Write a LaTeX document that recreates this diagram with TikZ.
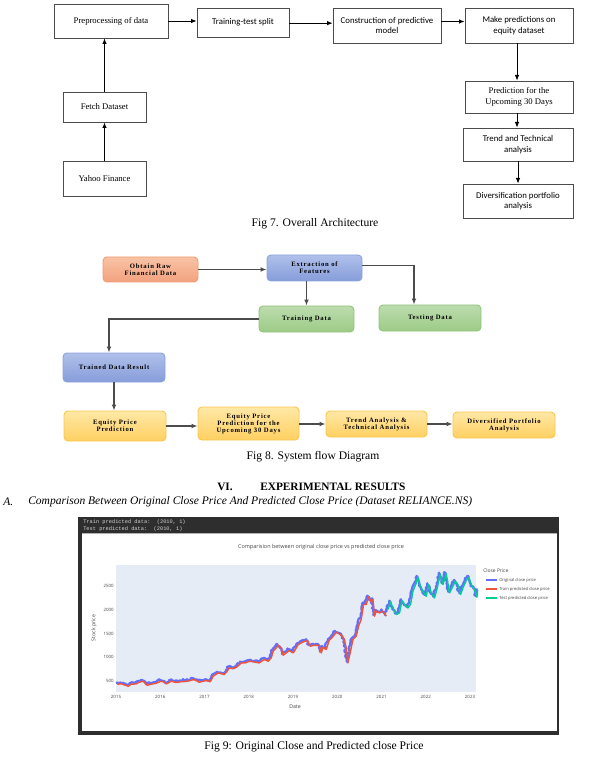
\documentclass[tikz,border=0pt]{standalone}
\usepackage{fontspec}
\setmainfont{Liberation Serif}
\newfontfamily\calfont{Carlito}
\newfontfamily\plotfont{Open Sans}
\newfontfamily\codefont{Liberation Mono}
\newfontfamily\flowfont[LetterSpace=12]{Liberation Serif}
\usetikzlibrary{arrows.meta,decorations.pathmorphing}

\definecolor{orangeT}{HTML}{F8C3A6}
\definecolor{orangeM}{HTML}{F3A27E}
\definecolor{orangeB}{HTML}{F29B70}
\definecolor{blueT}{HTML}{B0C0EA}
\definecolor{blueM}{HTML}{869DDA}
\definecolor{blueB}{HTML}{8AA3DD}
\definecolor{greenT}{HTML}{BCDCAE}
\definecolor{greenM}{HTML}{9DCB87}
\definecolor{greenB}{HTML}{93C47D}
\definecolor{yelT}{HTML}{FFE8A6}
\definecolor{yelM}{HTML}{FFD062}
\definecolor{yelB}{HTML}{F9C74F}
\definecolor{chartdark}{HTML}{2E2E2E}
\definecolor{plotbg}{HTML}{E5ECF6}
\definecolor{pblue}{HTML}{636EFA}
\definecolor{pred}{HTML}{EF553B}
\definecolor{pgreen}{HTML}{00CC96}
\definecolor{ptext}{HTML}{444444}

\newcommand\bx[7]{\node[#2,minimum width={(#5-#3)*0.75pt},minimum height={(#6-#4)*0.75pt}] (#1) at ({(#3+#5)/2},{(#4+#6)/2}) {#7};}

\def\trainpts{(116,683) (120,682.5) (124,684) (127,685) (130,683) (135,682.7) (138,681) (142,680) (146,684) (150,683) (155,682) (160,680) (163,681) (165,682.7) (170,680) (175,681.3) (180,680.5) (186,680) (193,678.3) (198,681) (202,680) (205,679.3) (209,680.5) (212,675) (217,671.7) (220,672.5) (223,673.3) (226,670) (228,666.7) (232,667.5) (236,665.5) (240,661.7) (244,661.7) (247,660.5) (250,660) (254,661) (258,661.7) (263,658.3) (267,660) (270,656.7) (272,650) (275,646.7) (277,644) (280,646.7) (282,654) (285,651.7) (288,649.3) (292,651.7) (295,646.7) (297,643.3) (302,640.7) (306,639.3) (309,645) (313,644) (318,644.3) (320,651.7) (322,646) (325,648.3) (328,639.3) (332,635) (335,631) (338,632.7) (341,635) (343,638.3) (345,646.7) (346.7,661.7) (349.3,650) (351.7,638.3) (355,635) (357.3,625) (360,618.3) (362.3,603.3) (365,603.3) (367.3,595.7) (369.3,600) (371.7,598.3) (373.3,615) (375,610) (378.3,611.7) (381.7,610) (385,615)}
\def\testpts{(386.7,608.3) (389.3,600.7) (391.7,606.7) (395,613.3) (398.3,611.7) (400.7,599.3) (403.3,603.3) (406.7,606.7) (409.3,603.3) (411.7,590) (415,581.7) (416.7,576) (419.3,585) (421.7,590) (425,595) (427.3,583.3) (430,591.7) (433.3,596.7) (436,586.7) (439,572.7) (441.7,583.3) (445,572.7) (448.3,591.7) (451.7,585) (454,580) (456.7,583.3) (459.3,593.3) (461.7,586.7) (465,579.3) (467.3,576) (470,583.3) (473.3,588.3) (475.7,596) (476.5,588.3)}

\begin{document}
\begin{tikzpicture}[x=0.75pt,y=-0.75pt,
  archbox/.style={draw=black!70,line width=0.6pt,fill=white,align=center,inner sep=1pt},
  serifbox/.style={archbox,font=\fontsize{6.5}{7.8}\selectfont},
  sansbox/.style={archbox,font=\calfont\fontsize{6.6}{7.8}\selectfont},
  arr/.style={-{Latex[length=4.2pt,width=3.4pt]},line width=0.7pt,black},
  flowbox/.style={rounded corners=3pt,line width=0.7pt,align=center,inner sep=1pt,font=\flowfont\bfseries\fontsize{5}{5.2}\selectfont},
  orangebox/.style={flowbox,draw=orangeB,top color=orangeT,bottom color=orangeM},
  bluebox/.style={flowbox,draw=blueB,top color=blueT,bottom color=blueM},
  greenbox/.style={flowbox,draw=greenB,top color=greenT,bottom color=greenM},
  yelbox/.style={flowbox,draw=yelB,top color=yelT,bottom color=yelM},
  farr/.style={-{Latex[length=4.5pt,width=3.6pt]},line width=1pt,draw=black!70},
  caption/.style={font=\fontsize{8.7}{10}\selectfont,inner sep=0},
  ptick/.style={font=\plotfont\fontsize{3.3}{4}\selectfont,text=ptext,inner sep=0},
  plab/.style={font=\plotfont\fontsize{3.9}{4.5}\selectfont,text=ptext,inner sep=0},
  pline/.style={line width=1.7pt,line join=round},
]
\useasboundingbox (0,0) rectangle (608,762);

% ---------------- Fig 7 ----------------
\bx{pre}{serifbox}{54}{4}{168}{38}{Preprocessing of data}
\bx{split}{sansbox}{197}{8}{289}{37}{Training-test split}
\bx{cons}{sansbox}{333}{8}{441}{43}{Construction of predictive\\model}
\bx{make}{sansbox}{465}{8}{573}{43}{Make predictions on\\equity dataset}
\bx{pred}{serifbox}{465}{81}{573}{113}{Prediction for the\\Upcoming 30 Days}
\bx{trend}{sansbox}{463}{128}{573}{161}{Trend and Technical\\analysis}
\bx{div}{sansbox}{463}{184}{573}{218}{Diversification portfolio\\analysis}
\bx{fetch}{serifbox}{63}{92}{146}{122}{Fetch Dataset}
\bx{yahoo}{serifbox}{63}{161}{146}{196}{Yahoo Finance}

\draw[arr] (pre.east) -- (pre.east -| split.west);
\draw[arr] ([yshift=-0.5pt]split.east) -- ([yshift=-0.5pt]split.east -| cons.west);
\draw[arr] ([yshift=3pt]cons.east) -- ([yshift=3pt]cons.east -| make.west);
\draw[arr] ([xshift=-1.5pt]make.south) -- ([xshift=-1.5pt]make.south |- pred.north);
\draw[arr] ([xshift=-1.5pt]pred.south) -- ([xshift=-1.5pt]pred.south |- trend.north);
\draw[arr] (trend.south) -- (div.north);
\draw[arr] (fetch.north) -- (fetch.north |- pre.south);
\draw[arr] (yahoo.north) -- (fetch.south);

\node[caption] (cap7) at (315,224) {Fig 7. Overall Architecture};

% ---------------- Fig 8 ----------------
\bx{raw}{orangebox}{103}{257}{198}{282}{Obtain Raw\\Financial Data}
\bx{ext}{bluebox}{267}{255}{362}{281}{Extraction of\\Features}
\bx{train}{greenbox}{259}{306}{354}{332}{Training Data}
\bx{test}{greenbox}{379}{305}{481}{331}{Testing Data}
\bx{trres}{bluebox}{63}{353}{165}{382}{Trained Data Result}
\bx{eq}{yelbox}{64}{411}{166}{441}{Equity Price\\Prediction}
\bx{eqthirty}{yelbox}{198}{407}{299}{440}{Equity Price\\Prediction for the\\Upcoming 30 Days}
\bx{ta}{yelbox}{326}{411}{427}{437}{Trend Analysis \&\\Technical Analysis}
\bx{dpa}{yelbox}{453}{412}{555}{438}{Diversified Portfolio\\Analysis}

\draw[farr] (raw.east) -- (raw.east -| ext.west);
\draw[farr] (train.north |- ext.south) -- (train.north);
\draw[farr] ([yshift=2pt]ext.east) -| ([xshift=-12pt]test.north);
\draw[farr] (train.west) -| ([xshift=-3.75pt]trres.north);
\draw[farr] (trres.south) -- (trres.south |- eq.north);
\draw[farr] (eq.east) -- (eq.east -| eqthirty.west);
\draw[farr] (ta.west -| eqthirty.east) -- (ta.west);
\draw[farr] (ta.east) -- (ta.east -| dpa.west);

\node[caption] (cap8) at (313,457) {Fig 8. System flow Diagram};

% ---------------- Section heading ----------------
\node[anchor=west,inner sep=0,font=\bfseries\fontsize{8.5}{10}\selectfont] (sec) at (217,487) {VI.};
\node[anchor=west,inner sep=0,font=\bfseries\fontsize{8.5}{10}\selectfont] (sect) at (260,487) {EXPERIMENTAL RESULTS};
\node[anchor=west,inner sep=0,font=\itshape\fontsize{8.65}{10}\selectfont] (suba) at (3,502) {A.};
\node[anchor=west,inner sep=0,font=\itshape\fontsize{8.65}{10}\selectfont] (subt) at (28,502) {Comparison Between Original Close Price And Predicted Close Price (Dataset RELIANCE.NS)};

% ---------------- Fig 9 chart ----------------
\fill[chartdark] (78,517) rectangle (559,735);
\fill[white] (82,533) rectangle (557,731);
\draw[gray!60,line width=0.4pt] (82,533) -- (557,533);
\node[anchor=west,inner sep=0,text=gray!35,font=\codefont\fontsize{4}{4.5}\selectfont] (h1) at (83,522) {Train predicted data:\ \ (2010, 1)};
\node[anchor=west,inner sep=0,text=gray!35,font=\codefont\fontsize{4}{4.5}\selectfont] (h2) at (83,529) {Test predicted data:\ \ (2010, 1)};

\node[plab,font=\plotfont\fontsize{4.1}{5}\selectfont] (ptitle) at (321,547) {Comparision between original close price vs predicted close price};
\fill[plotbg] (116,565) rectangle (476,692);

\node[ptick,anchor=east] (y2500) at (114,586) {2500};
\node[ptick,anchor=east] (y2000) at (114,610) {2000};
\node[ptick,anchor=east] (y1500) at (114,634) {1500};
\node[ptick,anchor=east] (y1000) at (114,657) {1000};
\node[ptick,anchor=east] (y500) at (114,681) {500};
\foreach \yr [count=\k from 0] in {2015,2016,2017,2018,2019,2020,2021,2022,2023}
  \node[ptick] (x\yr) at ({116+44.25*\k},697) {\yr};
\node[plab] (xlab) at (295,707) {Date};
\node[plab,rotate=90] (ylab) at (94,628) {Stock price};

\pgfmathsetseed{7}
\draw[pblue,pline,decorate,decoration={random steps,segment length=1.1pt,amplitude=0.8pt}]
  plot coordinates {\trainpts \testpts};
\draw[pred,line width=1.1pt,line join=round,shift={(1.2,1.2)}] plot coordinates {\trainpts};
\draw[pgreen,line width=1.1pt,line join=round,shift={(1.2,1.2)}] plot coordinates {\testpts};

% legend
\node[plab,anchor=west,font=\plotfont\fontsize{3.7}{4.5}\selectfont] (legt) at (483,571) {Close Price};
\draw[pblue,line width=1.1pt] (486,580) -- (497,580);
\draw[pred,line width=1.1pt] (486,589) -- (497,589);
\draw[pgreen,line width=1.1pt] (486,598) -- (497,598);
\node[ptick,anchor=west,font=\plotfont\fontsize{3.1}{4}\selectfont] (leg1) at (499,580) {Original close price};
\node[ptick,anchor=west,font=\plotfont\fontsize{3.1}{4}\selectfont] (leg2) at (499,589) {Train predicted close price};
\node[ptick,anchor=west,font=\plotfont\fontsize{3.1}{4}\selectfont] (leg3) at (499,598) {Test predicted close price};

\node[caption] (cap9) at (314,747) {Fig 9: Original Close and Predicted close Price};
\end{tikzpicture}
\end{document}
